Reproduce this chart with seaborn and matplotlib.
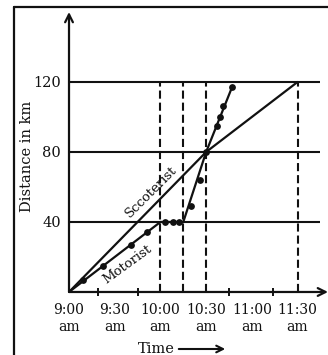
import matplotlib
matplotlib.use("Agg")
import matplotlib.pyplot as plt
import seaborn as sns
import pandas as pd
from matplotlib.lines import Line2D

# ---- data (minutes after 9:00 am, distance in km) ----
scooter_time = [0, 90, 150]
scooter_dist = [0, 80, 120]

motor_time = [0, 60, 75, 90, 107]
motor_dist = [0, 40, 40, 80, 117]

motor_dot_time = [9, 22, 41, 51, 63, 68, 72, 80, 86, 90, 97, 99, 101, 107]
motor_dot_dist = [7, 15, 27, 34, 40, 40, 40, 49, 64, 80, 95, 100, 106, 117]

grid_dist = [40, 80, 120]
dashed_time = [60, 75, 90, 150]

tick_time = [0, 30, 60, 90, 120, 150]
tick_labels = ["9:00\nam", "9:30\nam", "10:00\nam", "10:30\nam", "11:00\nam", "11:30\nam"]
minor_tick_time = [19, 45, 105, 134]
dist_ticks = [40, 80, 120]
dist_labels = ["40", "80", "120"]

sns.set_style("white")
plt.rcParams['font.family'] = ['DejaVu Serif']

INK = "#111111"
fig = plt.figure(figsize=(3.28, 3.55), dpi=100)
ax = fig.add_axes([0.2104, 0.1775, 0.7896, 0.7887])
ax.set_xlim(0, 170)
ax.set_ylim(0, 160)
for s in ax.spines.values():
    s.set_visible(False)

# grid lines and dashed verticals
ax.hlines(grid_dist, 0, 165, color=INK, lw=1.5)
ax.vlines(dashed_time, 0, 120, color=INK, lw=1.5, linestyles=[(0, (3.9, 1.9))])

# series
sdf = pd.DataFrame({"t": scooter_time, "d": scooter_dist})
mdf = pd.DataFrame({"t": motor_time, "d": motor_dist})
ddf = pd.DataFrame({"t": motor_dot_time, "d": motor_dot_dist})
sns.lineplot(data=sdf, x="t", y="d", ax=ax, color=INK, lw=1.6, estimator=None)
sns.lineplot(data=mdf, x="t", y="d", ax=ax, color=INK, lw=1.6, estimator=None)
sns.scatterplot(data=ddf, x="t", y="d", ax=ax, color=INK, s=24, edgecolor=INK, linewidth=0, zorder=5)

# axes arrows
ax.annotate('', xy=(170, 0), xytext=(0, 0),
            arrowprops=dict(arrowstyle='->', lw=1.6, color=INK, mutation_scale=14,
                            shrinkA=0, shrinkB=0), annotation_clip=False)
ax.annotate('', xy=(0, 160), xytext=(0, 0),
            arrowprops=dict(arrowstyle='->', lw=1.6, color=INK, mutation_scale=14,
                            shrinkA=0, shrinkB=0), annotation_clip=False)

# ticks
ax.set_xticks(tick_time)
ax.set_xticklabels(tick_labels, fontsize=10, linespacing=1.25)
ax.set_xticks(minor_tick_time, minor=True)
ax.tick_params(axis='x', which='major', length=0, pad=8, colors=INK)
ax.tick_params(axis='x', which='minor', length=6, width=1.4, direction='inout', color=INK, bottom=True)
ax.set_yticks(dist_ticks)
ax.set_yticklabels(dist_labels, fontsize=10.5)
ax.tick_params(axis='y', length=0, pad=6, colors=INK)
ax.set_xlabel("")
ax.set_ylabel("")

# line labels
ax.text(54, 57, "Sccoterist", rotation=45, fontsize=9.5, ha='center', va='center', color=INK)
ax.text(38, 15.5, "Motorist", rotation=36, fontsize=9.5, ha='center', va='center', color=INK)

# axis titles
fig.text(27 / 328, 1 - 156 / 355, "Distance in km", rotation=90, fontsize=10.5,
         ha='center', va='center', color=INK)
fig.text(138 / 328, 1 - 353 / 355, "Time", fontsize=10.5, ha='left', va='baseline', color=INK)
fig.add_artist(matplotlib.patches.FancyArrowPatch((176 / 328, 1 - 349 / 355), (228 / 328, 1 - 349 / 355),
                                                  transform=fig.transFigure, arrowstyle='->',
                                                  lw=1.5, color=INK, mutation_scale=12))

# outer frame (left and top edges visible)
fig.add_artist(Line2D([14 / 328, 14 / 328], [0, 1 - 7 / 355], transform=fig.transFigure, color=INK, lw=1.6))
fig.add_artist(Line2D([14 / 328, 1.0], [1 - 7 / 355, 1 - 7 / 355], transform=fig.transFigure, color=INK, lw=1.6))

fig.savefig("out.png", dpi=100)
